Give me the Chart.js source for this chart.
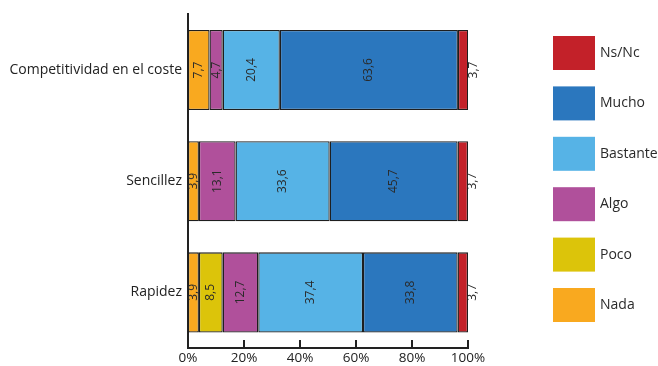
<!DOCTYPE html>
<html>
<head>
<meta charset="utf-8">
<script src="https://cdn.jsdelivr.net/npm/chart.js@4/dist/chart.umd.min.js"></script>
<style>
  html, body { margin: 0; padding: 0; background: #ffffff; }
  #wrap { width: 658px; height: 366px; }
</style>
</head>
<body>
<div id="wrap"><canvas id="chart" width="658" height="366"></canvas></div>
<script>
// Factores valorados (eje vertical)
const categories = ['Competitividad en el coste', 'Sencillez', 'Rapidez'];

// Porcentaje de respuestas por nivel
const nada     = [7.7, 3.9, 3.9];
const poco     = [0,   0,   8.5];
const algo     = [4.7, 13.1, 12.7];
const bastante = [20.4, 33.6, 37.4];
const mucho    = [63.6, 45.7, 33.8];
const nsnc     = [3.7, 3.7, 3.7];

const seriesNames = ['Nada', 'Poco', 'Algo', 'Bastante', 'Mucho', 'Ns/Nc'];
const seriesColors = ['#F9A91F', '#DCC40A', '#B0509B', '#56B3E6', '#2B77BE', '#C32129'];
const seriesValues = [nada, poco, algo, bastante, mucho, nsnc];

const xTicks = [0, 20, 40, 60, 80, 100];

const FONT = '"Open Sans", "Noto Sans", sans-serif';
const TEXT = '#222222';

const fmt = v => v.toFixed(1).replace('.', ',');

// Etiquetas de valor giradas dentro de cada segmento
const valueLabels = {
  id: 'valueLabels',
  afterDatasetsDraw(chart) {
    const ctx = chart.ctx;
    ctx.save();
    ctx.font = '12px ' + FONT;
    ctx.fillStyle = '#2a2a2a';
    ctx.textAlign = 'center';
    ctx.textBaseline = 'middle';
    const last = chart.data.datasets.length - 1;
    chart.data.datasets.forEach((ds, di) => {
      const meta = chart.getDatasetMeta(di);
      meta.data.forEach((bar, i) => {
        const v = ds.data[i];
        if (!v) return;
        let cx = (bar.x + bar.base) / 2;
        if (di === last) cx = Math.max(bar.x, bar.base) + 5;
        ctx.save();
        ctx.translate(cx, bar.y);
        ctx.rotate(-Math.PI / 2);
        ctx.fillText(fmt(v), 0, 0);
        ctx.restore();
      });
    });
    ctx.restore();
  }
};

// Marcas del eje horizontal hacia dentro
const innerTicks = {
  id: 'innerTicks',
  afterDraw(chart) {
    const ctx = chart.ctx;
    const xs = chart.scales.x;
    const bottom = chart.chartArea.bottom;
    ctx.save();
    ctx.strokeStyle = TEXT;
    ctx.lineWidth = 2;
    xTicks.forEach(t => {
      if (t === 0) return;
      const px = Math.round(xs.getPixelForValue(t));
      ctx.beginPath();
      ctx.moveTo(px, bottom);
      ctx.lineTo(px, bottom - 8);
      ctx.stroke();
    });
    ctx.restore();
  }
};

// Leyenda a la derecha, en orden inverso
const sideLegend = {
  id: 'sideLegend',
  afterDraw(chart) {
    const ctx = chart.ctx;
    const items = chart.data.datasets.slice().reverse();
    ctx.save();
    ctx.font = '14px ' + FONT;
    ctx.textAlign = 'left';
    ctx.textBaseline = 'middle';
    items.forEach((ds, i) => {
      const y = 36 + i * 50.4;
      ctx.fillStyle = ds.backgroundColor;
      ctx.fillRect(553, y, 42, 34);
      ctx.fillStyle = '#2a2a2a';
      ctx.fillText(ds.label, 600, y + 17);
    });
    ctx.restore();
  }
};

const datasets = seriesNames.map((name, k) => ({
  label: name,
  data: seriesValues[k],
  backgroundColor: seriesColors[k],
  borderColor: '#1e1e1e',
  borderWidth: 1.3,
  borderSkipped: false,
  barPercentage: 0.72,
  categoryPercentage: 1
}));

new Chart(document.getElementById('chart'), {
  type: 'bar',
  data: { labels: categories, datasets },
  options: {
    indexAxis: 'y',
    responsive: false,
    animation: false,
    layout: { padding: { top: 12, right: 190, bottom: 0, left: 0 } },
    plugins: {
      legend: { display: false },
      tooltip: { enabled: false }
    },
    scales: {
      x: {
        stacked: true,
        min: 0,
        max: 100,
        afterBuildTicks: s => { s.ticks = xTicks.map(v => ({ value: v })); },
        grid: { display: false, drawTicks: false },
        border: { display: true, color: TEXT, width: 2 },
        ticks: {
          padding: 2,
          maxRotation: 0,
          color: TEXT,
          font: { family: FONT, size: 13.5 },
          callback: v => v + '%'
        },
        afterFit: s => { s.height = 18; }
      },
      y: {
        stacked: true,
        offset: true,
        grid: { display: false, drawTicks: false },
        border: { display: true, color: TEXT, width: 2 },
        ticks: {
          padding: 6,
          color: TEXT,
          font: { family: FONT, size: 14 }
        },
        afterFit: s => { s.width = 188; }
      }
    }
  },
  plugins: [valueLabels, innerTicks, sideLegend]
});
</script>
</body>
</html>
